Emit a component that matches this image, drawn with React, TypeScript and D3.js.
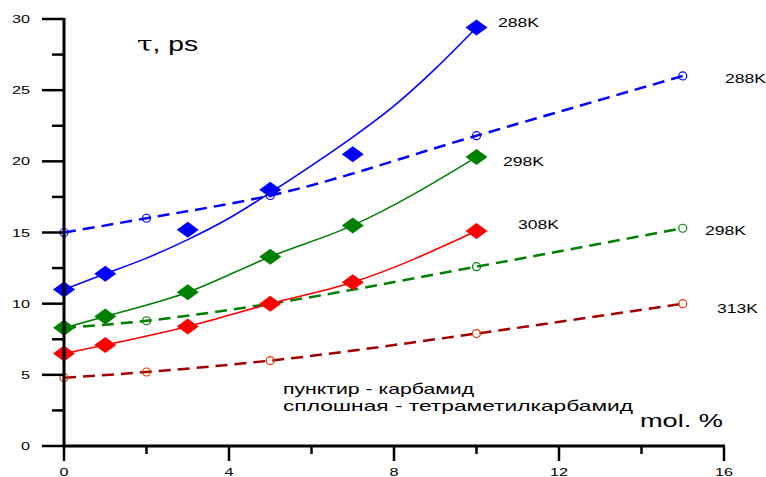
import React from 'react';
import * as d3 from 'd3';

// x values (mol. %) for tetramethylurea (solid) and urea (dashed)
const tmuX = [0, 1, 3, 5, 7, 10];
const ureaX = [0, 2, 5, 10, 15];

// relaxation times, ps
const tmu288 = [11.0, 12.1, 15.2, 18.0, 20.5, 29.4];
const tmu298 = [8.3, 9.1, 10.8, 13.3, 15.5, 20.3];
const tmu308 = [6.5, 7.1, 8.4, 10.0, 11.5, 15.1];
const urea288 = [15.0, 16.0, 17.6, 21.8, 26.0];
const urea298 = [8.3, 8.8, 10.0, 12.6, 15.3];
const urea313 = [4.8, 5.2, 6.0, 7.9, 10.0];

// fitted curve for 288K TMU
const fitX = [0, 1, 2, 3, 4, 5, 6, 7, 8, 9, 10];
const fit288 = [11.0, 12.1, 13.2, 14.5, 16.0, 17.8, 19.7, 21.7, 23.9, 26.5, 29.4];

const yTicks = [0, 5, 10, 15, 20, 25, 30];
const xTicks = [0, 4, 8, 12, 16];

const W = 766;
const H = 477;

export default function App() {
  const x = d3.scaleLinear().domain([0, 16]).range([64, 724]);
  const y = d3.scaleLinear().domain([0, 30]).range([446, 19]);

  const line = d3
    .line<[number, number]>()
    .x((d) => x(d[0]))
    .y((d) => y(d[1]))
    .curve(d3.curveMonotoneX);

  const pairs = (xs: number[], ys: number[]) => xs.map((v, i) => [v, ys[i]] as [number, number]);

  const diamond = (cx: number, cy: number) =>
    `M${cx - 11},${cy} L${cx},${cy - 8} L${cx + 11},${cy} L${cx},${cy + 8} Z`;

  const solid = [
    { fx: fitX, fy: fit288, py: tmu288, color: '#0000ff' },
    { fx: tmuX, fy: tmu298, py: tmu298, color: '#008000' },
    { fx: tmuX, fy: tmu308, py: tmu308, color: '#ff0000' },
  ];
  const dashed = [
    { ys: urea288, line: '#0000ff', mark: '#0000ff' },
    { ys: urea298, line: '#008000', mark: '#008000' },
    { ys: urea313, line: '#a00000', mark: '#e03c00' },
  ];

  const labels = [
    { t: '288K', x: 498, y: 27 },
    { t: '288K', x: 725, y: 83 },
    { t: '298K', x: 503, y: 166 },
    { t: '308K', x: 518, y: 229 },
    { t: '298K', x: 705, y: 235 },
    { t: '313K', x: 717, y: 313 },
  ];

  const minorY = d3.range(0, 31, 2.5).filter((v) => v % 5 !== 0);
  const minorX = d3.range(2, 16, 4);

  return (
    <svg
      width={W}
      height={H}
      style={{ position: 'absolute', left: 0, top: 0, background: '#fff' }}
      fontFamily="'Liberation Sans', Arial, sans-serif"
    >
      {dashed.map((s, i) => (
        <g key={'d' + i}>
          <path
            d={line(pairs(ureaX, s.ys)) || ''}
            fill="none"
            stroke={s.line}
            strokeWidth={2.5}
            strokeDasharray="12 7"
          />
          {ureaX.map((v, j) => (
            <circle key={j} cx={x(v)} cy={y(s.ys[j])} r={4} fill="none" stroke={s.mark} strokeWidth={1.2} />
          ))}
        </g>
      ))}
      {solid.map((s, i) => (
        <g key={'s' + i}>
          <path d={line(pairs(s.fx, s.fy)) || ''} fill="none" stroke={s.color} strokeWidth={1.6} />
          {tmuX.map((v, j) => (
            <path key={j} d={diamond(x(v), y(s.py[j]))} fill={s.color} />
          ))}
        </g>
      ))}

      {/* y axis */}
      <line x1={64} x2={64} y1={y(30) - 1} y2={y(0) + 1} stroke="#000" strokeWidth={3} />
      {yTicks.map((t) => (
        <g key={'yt' + t}>
          <line x1={42} x2={64} y1={y(t)} y2={y(t)} stroke="#000" strokeWidth={2.5} />
          <text
            x={30 - String(t).length * 9}
            y={y(t) + 4}
            fontSize={11}
            textLength={String(t).length * 9}
            lengthAdjust="spacingAndGlyphs"
          >
            {t}
          </text>
        </g>
      ))}
      {minorY.map((t) => (
        <line key={'ym' + t} x1={52} x2={64} y1={y(t)} y2={y(t)} stroke="#000" strokeWidth={2.5} />
      ))}

      {/* x axis */}
      <line x1={x(0) - 1} x2={x(16) + 1} y1={446} y2={446} stroke="#000" strokeWidth={3} />
      {xTicks.map((t) => (
        <g key={'xt' + t}>
          <line x1={x(t)} x2={x(t)} y1={446} y2={461} stroke="#000" strokeWidth={2.5} />
          <text
            x={x(t) - (String(t).length * 9) / 2}
            y={476}
            fontSize={11}
            textLength={String(t).length * 9}
            lengthAdjust="spacingAndGlyphs"
          >
            {t}
          </text>
        </g>
      ))}
      {minorX.map((t) => (
        <line key={'xm' + t} x1={x(t)} x2={x(t)} y1={446} y2={454} stroke="#000" strokeWidth={2.5} />
      ))}

      {labels.map((l, i) => (
        <text key={'l' + i} x={l.x} y={l.y} fontSize={13} textLength={41} lengthAdjust="spacingAndGlyphs">
          {l.t}
        </text>
      ))}

      <text x={137} y={51} fontSize={20} textLength={61} lengthAdjust="spacingAndGlyphs">
        <tspan fontFamily="'DejaVu Serif', serif">τ</tspan>, ps
      </text>
      <text x={640} y={427} fontSize={19} textLength={83} lengthAdjust="spacingAndGlyphs">
        mol. %
      </text>
      <text x={283} y={394} fontSize={15} textLength={191} lengthAdjust="spacingAndGlyphs">
        пунктир - карбамид
      </text>
      <text x={283} y={411} fontSize={15} textLength={350} lengthAdjust="spacingAndGlyphs">
        сплошная - тетраметилкарбамид
      </text>
    </svg>
  );
}
